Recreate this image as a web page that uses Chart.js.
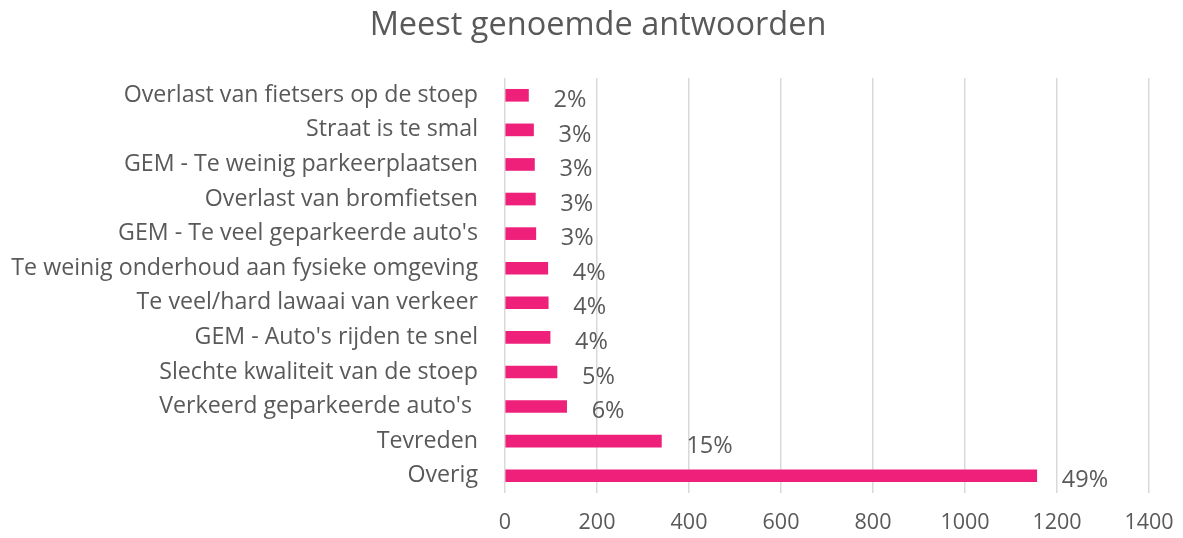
<!DOCTYPE html>
<html>
<head>
<meta charset="utf-8">
<script src="https://cdn.jsdelivr.net/npm/chart.js@4/dist/chart.umd.min.js"></script>
<style>
html,body{margin:0;padding:0;background:#fff;}
canvas{display:block;}
</style>
</head>
<body>
<canvas id="c" width="1183" height="538"></canvas>
<script>
const titleText = "Meest genoemde antwoorden";
const categories = [
  "Overlast van fietsers op de stoep",
  "Straat is te smal",
  "GEM - Te weinig parkeerplaatsen",
  "Overlast van bromfietsen",
  "GEM - Te veel geparkeerde auto's",
  "Te weinig onderhoud aan fysieke omgeving",
  "Te veel/hard lawaai van verkeer",
  "GEM - Auto's rijden te snel",
  "Slechte kwaliteit van de stoep",
  "Verkeerd geparkeerde auto's ",
  "Tevreden",
  "Overig"
];
const counts = [51, 62, 64, 66, 67, 93, 94, 98, 113, 134, 340, 1156];
const percentLabels = ["2%", "3%", "3%", "3%", "3%", "4%", "4%", "4%", "5%", "6%", "15%", "49%"];
const xTicks = [0, 200, 400, 600, 800, 1000, 1200, 1400];

const FONT = "'Open Sans', 'Noto Sans', sans-serif";
const TEXT = "#595959";

const labelPlugin = {
  id: 'pctLabels',
  afterDatasetsDraw(chart) {
    const ctx = chart.ctx;
    const meta = chart.getDatasetMeta(0);
    ctx.save();
    ctx.font = "23.5px " + FONT;
    ctx.fillStyle = TEXT;
    ctx.textAlign = "left";
    ctx.textBaseline = "middle";
    meta.data.forEach((bar, i) => {
      ctx.fillText(percentLabels[i], bar.x + 25, bar.y + 5);
    });
    ctx.restore();
  }
};

const titlePlugin = {
  id: 'titleText',
  afterDraw(chart) {
    const ctx = chart.ctx;
    ctx.save();
    ctx.font = "32.5px " + FONT;
    ctx.fillStyle = TEXT;
    ctx.textAlign = "center";
    ctx.textBaseline = "alphabetic";
    ctx.fillText(titleText, 598, 35);
    ctx.restore();
  }
};

new Chart(document.getElementById('c'), {
  type: 'bar',
  data: {
    labels: categories,
    datasets: [{
      data: counts,
      backgroundColor: '#EE2079',
      borderWidth: 0,
      barThickness: 12,
      categoryPercentage: 1,
      barPercentage: 1
    }]
  },
  options: {
    indexAxis: 'y',
    responsive: false,
    animation: false,
    layout: { padding: { left: 0, right: 34, top: 78, bottom: 0 } },
    plugins: {
      legend: { display: false },
      tooltip: { enabled: false },
      title: { display: false }
    },
    scales: {
      x: {
        min: 0,
        max: 1400,
        afterBuildTicks(scale) { scale.ticks = xTicks.map(v => ({ value: v })); },
        grid: { color: '#d9d9d9', lineWidth: 1.5, drawTicks: false },
        border: { display: false },
        ticks: { color: TEXT, font: { family: FONT, size: 21.5 }, padding: 17, callback: v => String(v) },
        afterFit(scale) { scale.height = 45; scale.paddingLeft = 0; scale.paddingRight = 0; }
      },
      y: {
        grid: { display: false, drawTicks: false },
        border: { display: false },
        ticks: { color: TEXT, font: { family: FONT, size: 23.2 }, padding: 27, autoSkip: false },
        afterFit(scale) { scale.width = 505; scale.paddingTop = 0; scale.paddingBottom = 0; }
      }
    }
  },
  plugins: [labelPlugin, titlePlugin]
});
</script>
</body>
</html>
